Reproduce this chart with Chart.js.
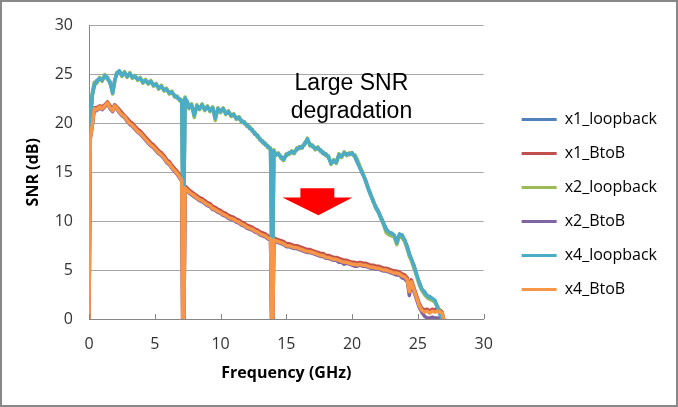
<!DOCTYPE html>
<html><head><meta charset="utf-8">
<script src="https://cdn.jsdelivr.net/npm/chart.js@4.4.0/dist/chart.umd.min.js"></script>
<style>
html,body{margin:0;padding:0;background:#fff;}
#wrap{position:relative;width:678px;height:407px;overflow:hidden;}
#frame{position:absolute;left:0;top:0;width:678px;height:407px;box-sizing:border-box;border:2px solid #888;pointer-events:none;}
canvas{display:block;}
</style></head><body>
<div id="wrap"><canvas id="c" width="678" height="407"></canvas><div id="frame"></div></div>
<script>
// Frequency axis (GHz), shared by all series
const frequency = [
 0,0.1,0.25,0.4,0.6,0.8,1.0,1.2,1.4,1.6,
 1.8,1.95,2.1,2.3,2.5,2.7,2.9,3.1,3.3,3.5,
 3.7,3.9,4.1,4.3,4.5,4.7,4.9,5.1,5.3,5.5,
 5.7,5.9,6.1,6.3,6.5,6.7,6.9,7.05,7.12,7.22,
 7.3,7.45,7.6,7.8,8.0,8.2,8.4,8.6,8.8,9.0,
 9.2,9.4,9.6,9.8,10.0,10.2,10.4,10.6,10.8,11.0,
 11.2,11.4,11.6,11.8,12.0,12.2,12.4,12.6,12.8,13.0,
 13.2,13.4,13.6,13.8,13.88,13.98,14.05,14.2,14.4,14.6,
 14.8,15.0,15.2,15.4,15.6,15.8,16.0,16.2,16.4,16.6,
 16.8,17.0,17.2,17.4,17.6,17.8,18.0,18.2,18.4,18.6,
 18.8,19.0,19.2,19.4,19.6,19.8,20.0,20.2,20.4,20.6,
 20.8,21.0,21.2,21.4,21.6,21.8,22.0,22.2,22.4,22.6,
 22.8,23.0,23.2,23.4,23.6,23.8,24.0,24.2,24.35,24.5,
 24.7,24.9,25.1,25.3,25.5,25.7,25.9,26.1,26.3,26.5,
 26.7,26.85,26.95
];
const x1_loopback = [
 18.3,20.2,22.8,23.8,24.4,24.5,24.5,24.8,24.7,24.1,
 23.3,24.4,25.0,25.3,25.0,25.1,24.9,25.0,24.8,24.7,
 24.6,24.5,24.3,24.3,24.2,24.2,24.0,23.9,23.7,23.7,
 23.5,23.4,23.2,23.1,22.9,22.6,22.5,22.2,13.6,13.4,
 22.5,22.3,21.7,21.8,21.0,21.7,21.6,21.8,21.5,21.6,
 21.4,21.5,20.7,21.4,21.3,21.4,21.1,21.1,20.9,20.8,
 20.6,20.5,20.3,20.0,19.9,19.5,19.4,18.9,18.8,18.3,
 18.2,17.8,17.7,17.3,8.4,8.2,17.1,16.9,16.8,16.6,
 16.4,16.7,17.0,17.0,17.1,17.3,17.6,17.5,18.0,18.3,
 17.9,17.6,17.5,17.4,17.3,16.9,16.9,16.5,16.0,16.1,
 16.1,16.7,16.7,16.9,16.9,16.8,17.0,16.6,16.0,15.5,
 14.8,14.3,13.5,12.8,12.0,11.5,11.0,10.4,9.8,9.2,
 8.8,8.8,8.5,7.9,8.6,8.6,8.0,7.4,6.7,6.1,
 5.5,4.5,3.8,3.0,2.8,2.3,2.3,2.0,1.8,1.1,
 0.5,0,0
];
const x1_BtoB = [
 0,18.7,20.0,21.6,21.6,21.8,21.7,21.9,22.2,21.8,
 21.5,21.9,21.7,21.4,21.1,20.8,20.5,20.2,20.0,19.7,
 19.4,19.2,18.9,18.6,18.3,18.0,17.8,17.5,17.2,17.0,
 16.7,16.3,16.1,15.7,15.4,15.1,14.7,14.4,0,0,
 13.6,13.4,13.2,13.0,12.8,12.6,12.4,12.3,12.1,11.9,
 11.8,11.5,11.4,11.2,11.1,10.9,10.8,10.6,10.5,10.4,
 10.2,10.1,9.9,9.8,9.6,9.5,9.4,9.2,9.1,8.9,
 8.8,8.7,8.5,8.4,0,0,8.3,8.2,8.1,8.0,
 7.9,7.7,7.7,7.6,7.5,7.5,7.4,7.3,7.2,7.1,
 7.1,7.0,6.9,6.8,6.7,6.7,6.5,6.5,6.4,6.3,
 6.3,6.2,6.1,6.0,6.0,5.9,5.8,5.8,5.7,5.8,
 5.7,5.7,5.6,5.5,5.5,5.4,5.4,5.3,5.2,5.2,
 5.1,5.0,4.9,4.9,4.8,4.6,4.5,4.2,3.0,4.0,
 3.2,2.4,1.6,1.1,0.9,1.0,0.8,1.0,0.9,1.0,
 0.9,0.7,0
];
const x2_loopback = [
 18.6,20.7,23.1,24.2,24.1,24.7,24.3,25.0,24.5,24.3,
 23.0,24.2,25.2,25.3,24.8,25.3,24.7,25.2,24.6,24.9,
 24.4,24.7,24.1,24.5,24.0,24.4,23.8,24.1,23.5,23.9,
 23.3,23.6,23.0,23.3,22.7,22.8,22.3,22.4,13.4,13.2,
 22.7,22.1,21.5,22.0,20.6,21.9,21.4,22.0,21.3,21.8,
 21.2,21.7,20.3,21.6,21.1,21.6,20.9,21.3,20.7,21.0,
 20.4,20.7,20.1,20.2,19.7,19.7,19.2,19.1,18.6,18.5,
 18.0,18.0,17.5,17.5,8.2,8.0,17.3,16.7,17.0,16.4,
 16.2,16.9,16.8,17.2,16.9,17.5,17.4,17.7,17.8,18.5,
 17.7,17.8,17.3,17.6,17.1,17.1,16.7,16.7,15.8,16.3,
 15.9,16.9,16.5,17.1,16.7,17.0,16.8,16.8,16.3,15.6,
 15.0,14.2,13.4,12.7,12.2,11.3,10.9,10.2,9.6,8.8,
 8.6,8.5,8.4,7.6,8.5,8.3,7.9,7.1,6.4,6.0,
 5.2,4.4,3.5,2.9,2.5,2.2,2.0,1.9,1.7,1.3,
 0.7,0.1,0
];
const x2_BtoB = [
 0,18.4,19.7,21.4,21.3,21.6,21.4,21.7,22.0,21.5,
 21.2,21.7,21.5,21.1,20.8,20.6,20.2,19.9,19.7,19.4,
 19.1,18.9,18.6,18.3,18.0,17.7,17.5,17.2,16.9,16.7,
 16.4,16.0,15.8,15.4,15.1,14.8,14.4,14.1,0,0,
 13.3,13.1,12.9,12.7,12.5,12.3,12.1,12.0,11.8,11.6,
 11.5,11.2,11.1,10.9,10.8,10.6,10.5,10.3,10.2,10.1,
 9.9,9.8,9.6,9.5,9.3,9.2,9.1,8.9,8.8,8.6,
 8.5,8.4,8.2,8.1,0,0,8.0,7.9,7.8,7.7,
 7.6,7.4,7.4,7.3,7.2,7.2,7.1,7.0,6.9,6.8,
 6.8,6.7,6.6,6.5,6.4,6.4,6.2,6.2,6.1,6.0,
 6.0,5.8,5.8,5.6,5.7,5.6,5.5,5.4,5.4,5.5,
 5.4,5.4,5.3,5.2,5.2,5.1,5.1,5.0,4.9,4.9,
 4.8,4.7,4.6,4.5,4.5,4.2,4.1,3.8,2.4,3.6,
 2.8,2.0,1.2,0.7,0.3,0.1,0.1,0.2,0.1,0.1,
 0.1,0,0
];
const x4_loopback = [
 18.5,20.5,23.0,24.0,24.3,24.6,24.4,24.9,24.6,24.2,
 23.1,24.3,25.1,25.4,24.9,25.2,24.8,25.1,24.7,24.8,
 24.5,24.6,24.2,24.4,24.1,24.3,23.9,24.0,23.6,23.8,
 23.4,23.5,23.1,23.2,22.8,22.7,22.4,22.3,13.5,13.3,
 22.6,22.2,21.6,21.9,20.8,21.8,21.5,21.9,21.4,21.7,
 21.3,21.6,20.5,21.5,21.2,21.5,21.0,21.2,20.8,20.9,
 20.5,20.6,20.2,20.1,19.8,19.6,19.3,19.0,18.7,18.4,
 18.1,17.9,17.6,17.4,8.3,8.1,17.2,16.8,16.9,16.5,
 16.3,16.8,16.9,17.1,17.0,17.4,17.5,17.6,17.9,18.4,
 17.8,17.7,17.4,17.5,17.2,17.0,16.8,16.6,15.9,16.2,
 16.0,16.8,16.6,17.0,16.8,16.9,16.9,16.7,16.1,15.4,
 14.9,14.2,13.4,12.7,12.1,11.4,10.9,10.3,9.7,9.1,
 8.9,8.7,8.6,7.8,8.7,8.5,8.1,7.3,6.6,6.2,
 5.4,4.6,3.7,3.1,2.7,2.4,2.2,2.1,1.9,1.2,
 0.4,0,0
];
const x4_BtoB = [
 0,18.5,19.8,21.5,21.4,21.7,21.5,21.8,22.1,21.6,
 21.3,21.8,21.6,21.2,20.9,20.7,20.3,20.0,19.8,19.5,
 19.2,19.0,18.7,18.4,18.1,17.8,17.6,17.3,17.0,16.8,
 16.5,16.1,15.9,15.5,15.2,14.9,14.5,14.2,0,0,
 13.4,13.2,13.0,12.8,12.6,12.4,12.2,12.1,11.9,11.7,
 11.6,11.3,11.2,11.0,10.9,10.7,10.6,10.4,10.3,10.2,
 10.0,9.9,9.7,9.6,9.4,9.3,9.2,9.0,8.9,8.7,
 8.6,8.5,8.3,8.2,0,0,8.1,8.0,7.9,7.8,
 7.7,7.5,7.5,7.4,7.3,7.3,7.2,7.1,7.0,6.9,
 6.9,6.8,6.7,6.6,6.5,6.5,6.3,6.3,6.2,6.1,
 6.1,6.0,5.9,5.8,5.8,5.7,5.6,5.6,5.5,5.6,
 5.5,5.5,5.4,5.3,5.3,5.2,5.2,5.1,5.0,5.0,
 4.9,4.8,4.7,4.7,4.6,4.4,4.3,4.0,2.8,3.8,
 3.0,2.2,1.4,0.9,0.7,0.8,0.6,0.8,0.7,0.8,
 0.7,0.6,0
];
const seriesNames = ['x1_loopback','x1_BtoB','x2_loopback','x2_BtoB','x4_loopback','x4_BtoB'];
const seriesValues = [x1_loopback, x1_BtoB, x2_loopback, x2_BtoB, x4_loopback, x4_BtoB];
const seriesColors = ['#4F81BD','#C0504D','#9BBB59','#8064A2','#4BACC6','#F79646'];
const xTicks = [0,5,10,15,20,25,30];
const yTicks = [0,5,10,15,20,25,30];
const annotationLines = ['Large SNR','degradation'];

const datasets = seriesNames.map((name, i) => ({
  label: name,
  data: frequency.map((f, k) => ({x: f, y: seriesValues[i][k]})),
  borderColor: seriesColors[i],
  backgroundColor: seriesColors[i],
  borderWidth: 3.5,
  borderJoinStyle: 'round',
  borderCapStyle: 'round',
  pointRadius: 0,
  tension: 0,
  fill: false,
  order: seriesNames.length - i
}));

const annotPlugin = {
  id: 'annot',
  afterDatasetsDraw(chart, args, opts) {
    const {ctx, scales: {x, y}} = chart;
    ctx.save();
    ctx.beginPath();
    opts.arrow.forEach(([fx, fy], k) => {
      const px = x.getPixelForValue(fx), py = y.getPixelForValue(fy);
      if (k === 0) ctx.moveTo(px, py); else ctx.lineTo(px, py);
    });
    ctx.closePath();
    ctx.fillStyle = '#FF0000';
    ctx.fill();
    ctx.fillStyle = '#000';
    ctx.font = opts.font;
    ctx.textAlign = 'center';
    ctx.textBaseline = 'alphabetic';
    annotationLines.forEach((t, k) => {
      ctx.fillText(t, x.getPixelForValue(opts.textX), y.getPixelForValue(opts.textY[k]));
    });
    ctx.restore();
  },
  afterDraw(chart) {
    const {ctx} = chart;
    const s = chart.scales.x;
    ctx.save();
    ctx.strokeStyle = '#868686';
    ctx.lineWidth = 1;
    ctx.beginPath();
    s.ticks.forEach(t => {
      const px = Math.round(s.getPixelForValue(t.value)) + 0.5;
      ctx.moveTo(px, s.top);
      ctx.lineTo(px, s.top - 5);
    });
    ctx.stroke();
    ctx.restore();
  }
};

function draw() {
  Chart.defaults.font.family = "'Open Sans', 'DejaVu Sans', sans-serif";
  new Chart(document.getElementById('c'), {
    type: 'line',
    data: {datasets},
    plugins: [annotPlugin],
    options: {
      responsive: false,
      animation: false,
      devicePixelRatio: 1,
      layout: {padding: {left: 20, top: 22, right: 11, bottom: 20}},
      scales: {
        x: {
          type: 'linear', min: 0, max: 30,
          afterBuildTicks: s => { s.ticks = xTicks.map(v => ({value: v})); },
          afterFit: s => { s.height = 68; },
          grid: {display: false, drawTicks: false},
          border: {display: true, color: '#868686', width: 1},
          ticks: {font: {size: 16}, color: '#333', padding: 16, maxRotation: 0},
          title: {display: true, text: 'Frequency (GHz)', font: {size: 16, weight: 'bold'}, color: '#000'}
        },
        y: {
          type: 'linear', min: 0, max: 30,
          afterBuildTicks: s => { s.ticks = yTicks.map(v => ({value: v})); },
          afterFit: s => { s.width = 69; },
          grid: {color: '#A6A6A6', lineWidth: 1, drawTicks: false},
          border: {display: true, color: '#868686', width: 1},
          ticks: {font: {size: 16}, color: '#333', padding: 16},
          title: {display: true, text: 'SNR (dB)', font: {size: 16, weight: 'bold'}, color: '#000'}
        },
        gap: {
          type: 'linear', position: 'right', display: true,
          grid: {display: false, drawTicks: false}, border: {display: false}, ticks: {display: false},
          afterFit: s => { s.width = 20; }
        }
      },
      plugins: {
        tooltip: {enabled: false},
        legend: {
          position: 'right',
          maxWidth: 220,
          labels: {
            boxWidth: 35, boxHeight: 3, padding: 18,
            font: {size: 16}, color: '#000',
            sort: (a, b) => a.datasetIndex - b.datasetIndex,
            generateLabels: chart => Chart.defaults.plugins.legend.labels.generateLabels(chart).map(l => Object.assign(l, {lineWidth: 0}))
          }
        },
        annot: {
          arrow: [[16.07,13.36],[18.65,13.36],[18.65,12.42],[20.03,12.42],[17.44,10.6],[14.70,12.42],[16.07,12.42]],
          textX: 19.95,
          textY: [23.43, 20.6],
          font: "23px 'Liberation Sans', Arial, sans-serif"
        }
      }
    }
  });
}
if (document.fonts && document.fonts.load) {
  Promise.all([
    document.fonts.load("16px 'Open Sans'"),
    document.fonts.load("bold 16px 'Open Sans'"),
    document.fonts.load("23px 'Liberation Sans'")
  ]).then(draw, draw);
} else { draw(); }
</script>
</body></html>
